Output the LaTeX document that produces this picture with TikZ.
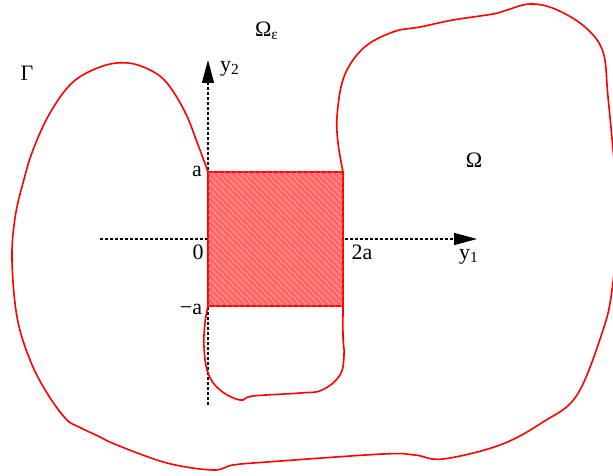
\documentclass[tikz,border=0pt]{standalone}
\usepackage{fontspec}
\setmainfont{Liberation Serif}
\usetikzlibrary{arrows.meta,patterns}

\begin{document}
\begin{tikzpicture}[
  x=0.5pt, y=-0.5pt,
  boundary/.style={red, line width=0.8pt},
  axis/.style={dash pattern=on 1.5pt off 1pt, line width=0.6pt, -{Triangle[length=11.5pt,width=6pt]}},
  cell/.style={draw=red, line width=0.8pt, fill=red!50, postaction={pattern=north west lines, pattern color=red!70}},
  lbl/.style={inner sep=0pt, font=\fontsize{11}{13}\selectfont}
]
\useasboundingbox (0,0) rectangle (613,475);
\clip (0,0) rectangle (613,475);

% axes
\coordinate (x0) at (100,239);
\coordinate (x1) at (477,239);
\coordinate (v0) at (208,405);
\coordinate (v1) at (208,60);
\draw[axis] (x0) -- (x1);
\draw[axis] (v0) -- (v1);

% the hatched cell
\coordinate (c1) at (208,172);
\coordinate (c2) at (343,172);
\coordinate (c3) at (343,306);
\coordinate (c4) at (208,306);
\draw[cell] (c1) rectangle (c3);

% outer boundary Gamma
\draw[boundary] plot[smooth, tension=0.6] coordinates {(c1) (197,142) (185,112) (167,83) (150,70) (128,63) (103,66) (73,82) (50,113) (33,150) (23,183) (15,218) (12,260) (17,317) (30,360) (47,393) (66,419) (79,427) (98,436) (117,445) (167,463) (213,470) (233,465) (267,462) (383,454) (415,455) (443,459) (500,445) (543,422) (577,395) (603,330) (612,290) (617,230) (616,185) (608,97) (603,52) (585,27) (555,9) (530,4) (507,10) (493,14) (453,20) (420,27) (396,31) (370,43) (353,60) (342,83) (337,117) (338,143) (c2)};

% pocket under the cell
\draw[boundary] plot[smooth, tension=0.65] coordinates {(c3) (343,337) (344,355) (340,375) (322,390) (300,393) (253,396) (240,400) (220,390) (208,373) (204,347) (205,323) (c4)};

% labels
\node[lbl] (gamma) at (27,73) {Γ};
\node[lbl] (omeps) at (267,31) {Ω\textsubscript{ε}};
\node[lbl] (omega) at (474,160) {Ω};
\node[lbl] (ytwo) at (230,69) {y\textsubscript{2}};
\node[lbl] (yone) at (469,257) {y\textsubscript{1}};
\node[lbl] (la) at (197,171) {a};
\node[lbl] (lzero) at (198,252) {0};
\node[lbl] (lma) at (191,309) {−a};
\node[lbl] (ltwoa) at (362,252) {2a};
\end{tikzpicture}
\end{document}
